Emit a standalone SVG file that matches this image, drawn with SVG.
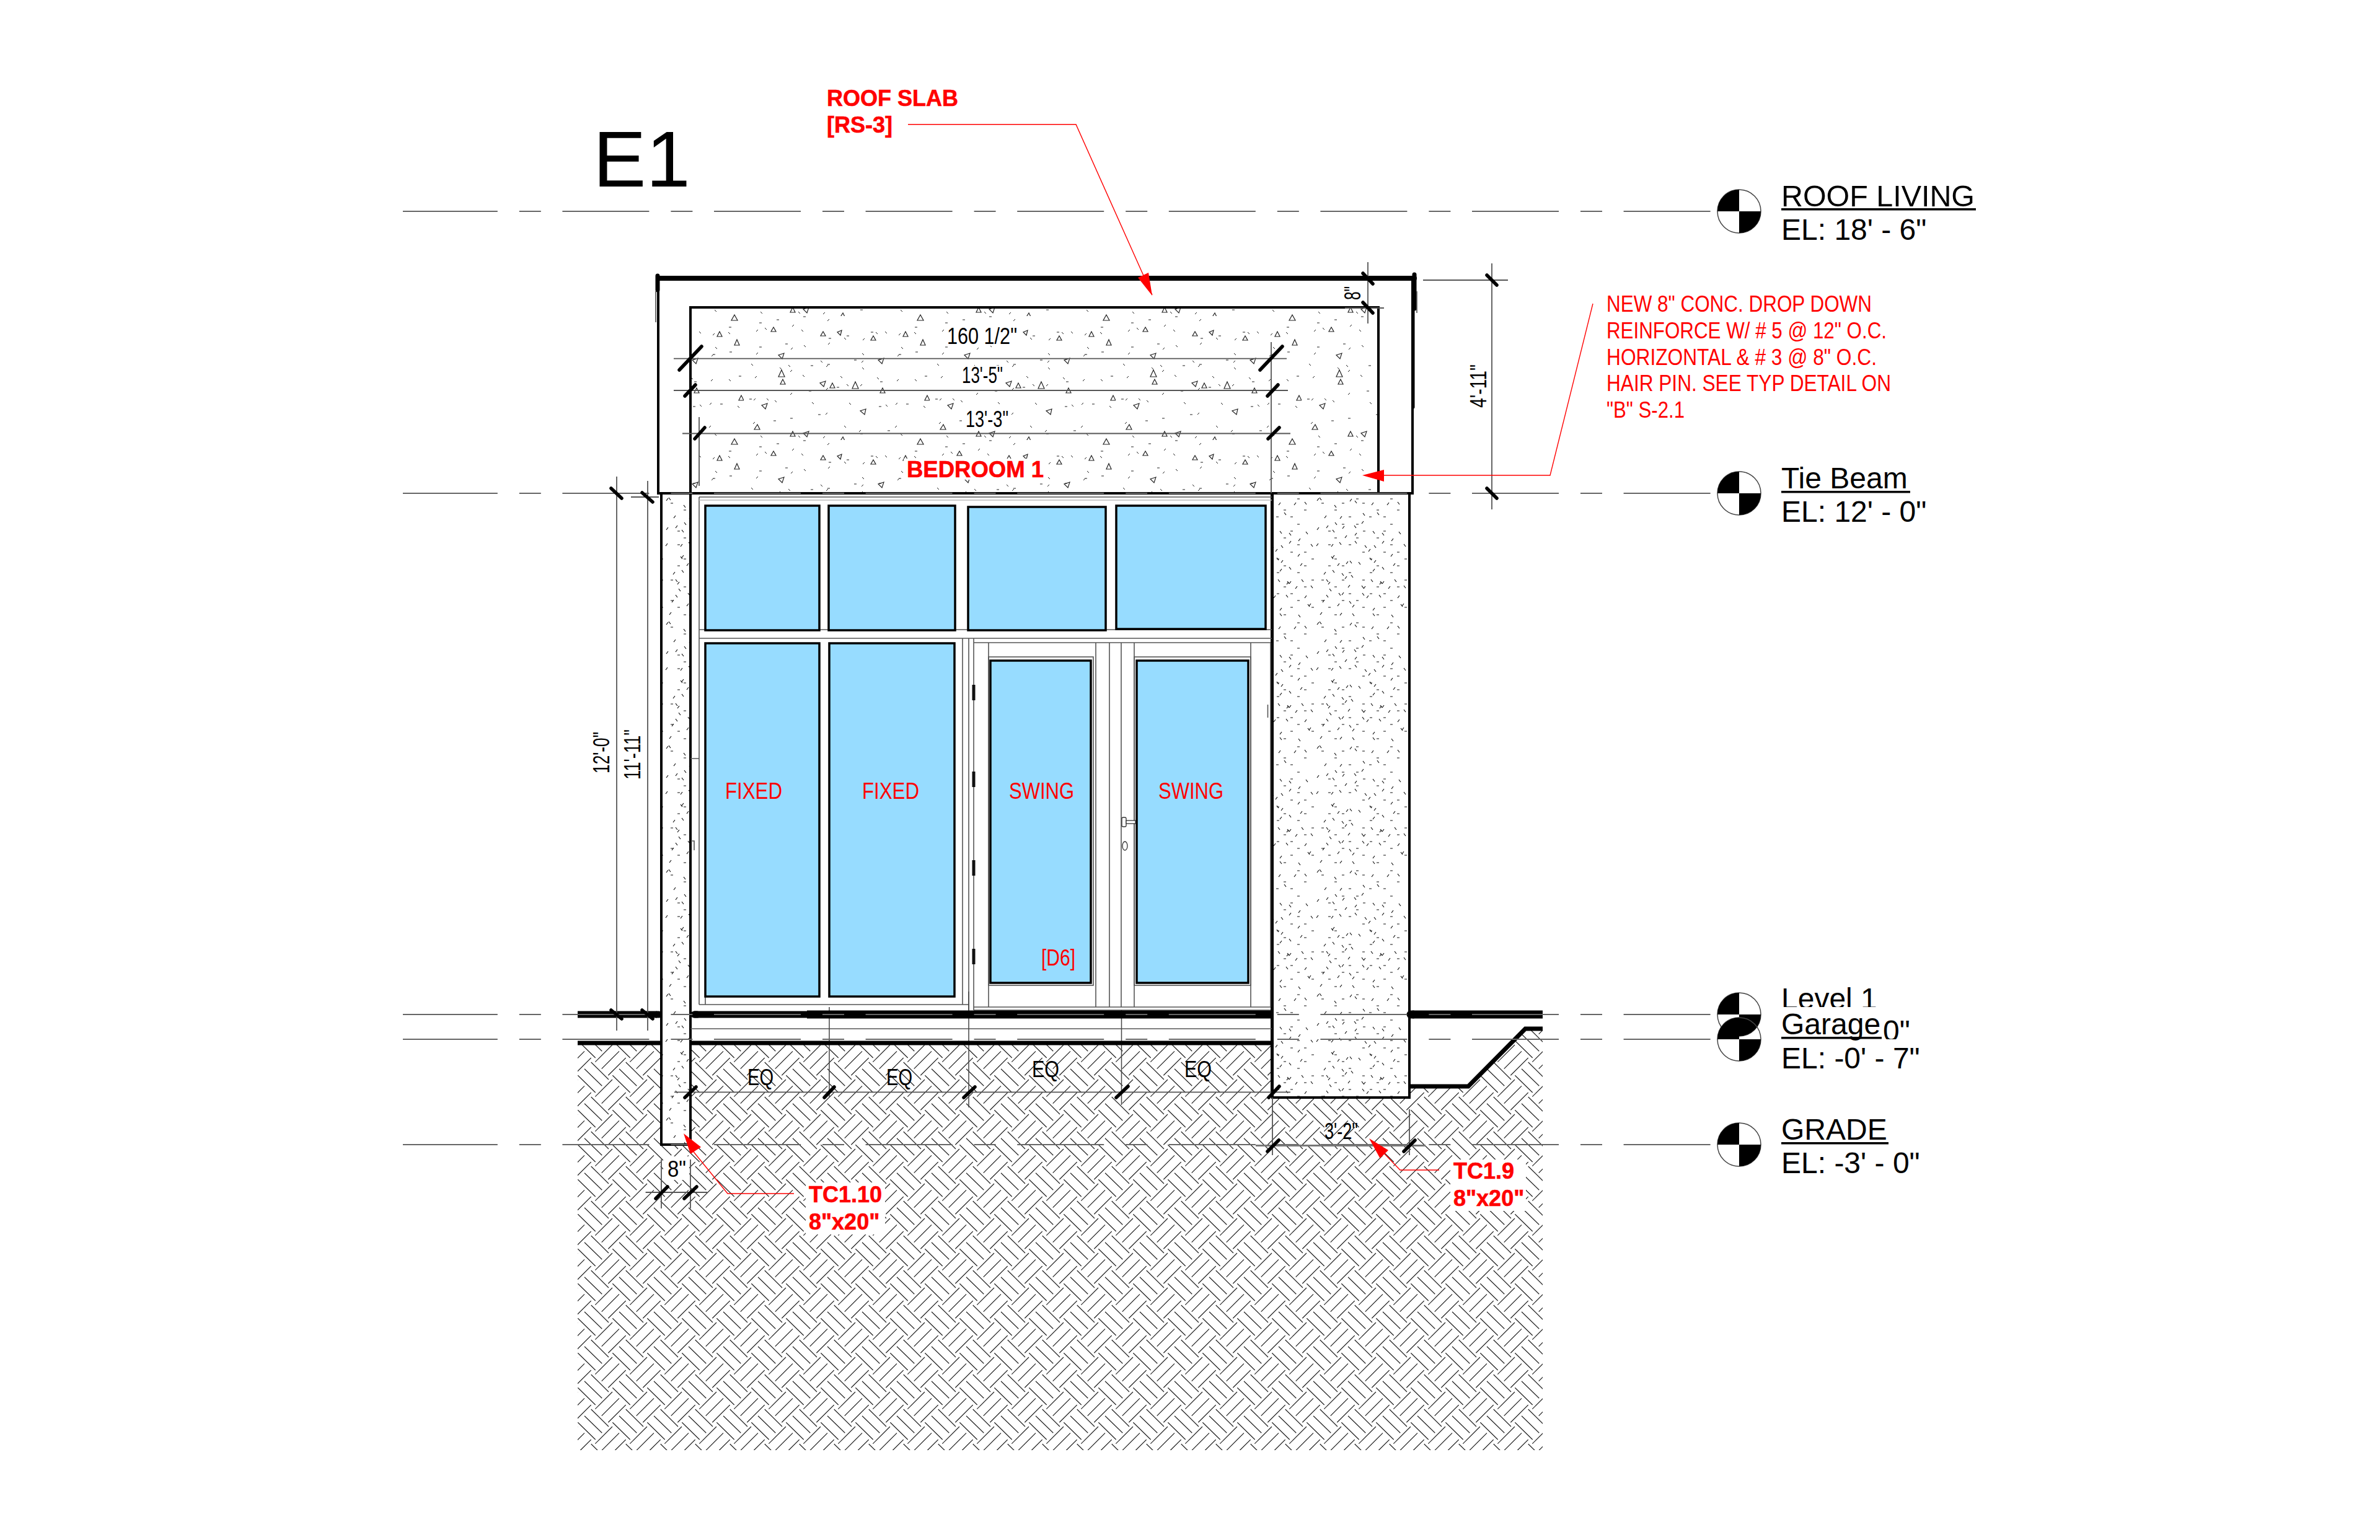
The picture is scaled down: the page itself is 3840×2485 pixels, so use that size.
<svg xmlns="http://www.w3.org/2000/svg" width="3840" height="2485" viewBox="0 0 3840 2485">
<style>
text{font-family:"Liberation Sans",Arial,sans-serif}
.k{fill:#000;font-size:36px}
.lv{fill:#000;font-size:48px}
.r{fill:#f00;font-size:36px}
.b{font-weight:bold;stroke:#f00;stroke-width:.6px}
.thin{stroke:#444;stroke-width:1.5;fill:none}
.fr{stroke:#555;stroke-width:1.6;fill:none}
.dim{stroke:#555;stroke-width:1.8;fill:none}
.tick{stroke:#000;stroke-width:5.5;stroke-linecap:round;fill:none}
.thick{stroke:#000;fill:none;stroke-linecap:round}
.bt{stroke-linecap:butt}
.lvl{stroke:#666;stroke-width:2;stroke-dasharray:140 35 35 34.6;fill:none}
.lead{stroke:#f00;stroke-width:1.4;fill:none}
.pane{fill:#97dcff;stroke:#000;stroke-width:3.5}
.wall{stroke:#000;stroke-width:4}
</style>
<defs>
<g id="hcell" stroke="#222" stroke-width="1.2" fill="none">
<path d="M35 16.7L63.3 44.3M45.7 6L74 34M24.3 27.3L52.7 55M52.3 61.7L80 34M62.7 72.7L91 44.3M73.3 83.3L101.7 55"/>
</g>
<pattern id="hatch" patternUnits="userSpaceOnUse" x="1300" y="2100" width="56" height="56">
<use href="#hcell"/><use href="#hcell" x="-56"/><use href="#hcell" y="-56"/><use href="#hcell" x="-56" y="-56"/>
</pattern>
<pattern id="stip" patternUnits="userSpaceOnUse" x="2120" y="1000" width="150" height="200">
<rect width="150" height="200" fill="#fff"/>
<path stroke="#111" stroke-width="1.2" fill="none" d="M12 12h4M45 12h4M78 12h4M33 23h4M101 23h4M134 23h4M56 34h4M89 34h4M112 34h4M45 46h4M68 46h4M123 46h4M23 57h4M79 57h4M112 57h4M33 68h4M68 68h4M101 68h4M23 79h4M56 79h4M123 79h4M78 91h4M112 91h4M134 91h4M33 102h4M90 102h4M146 102h4M23 113h4M45 113h4M101 113h4M134 113h4M56 124h4M90 124h4M123 124h4M12 136h4M45 136h4M78 136h4M146 136h4M33 147h4M101 147h4M134 147h4M56 158h4M90 158h4M112 158h4M12 169h4M45 169h4M68 169h4M123 169h4M23 180h4M78 180h4M112 180h4M146 180h4M33 192h4M101 192h4M68 5h4M123 5h4
M17 36l3-4M42 37l3-4M77 45l3-4M20 52l3-4M5 55l3-4M46 53l3-4M66 64l3-4M50 68l3-4M110 77l3-4M125 73l3-4M4 81l3-4M28 82l3-4M88 90l3-4M124 98l3-4M30 100l3-4M52 110l3-4M38 113l3-4M97 108l3-4M128 113l3-4M95 122l3-4M16 127l3-4M50 134l3-4M106 143l3-4M80 150l3-4M23 143l3-4M110 142l3-4M55 148l3-4M14 172l3-4M38 178l3-4M62 180l3-4M95 185l3-4M120 150l3-4M142 178l3-4M10 192l3-4M42 193l3-4M5 8l3-4M58 9l3-4M93 15l3-4M118 15l3-4M45 160l3-4M85 165l3-4M135 165l3-4
M33 15l3 4M66 8l3 4M102 27l3 4M79 28l3 4M34 43l3 4M65 48l3 4M30 55l3 4M95 57l3 4M110 60l3 4M137 58l3 4M41 75l3 4M66 73l3 4M97 80l3 4M9 3l3 4M135 10l3 4M82 80l3 4M145 78l3 4M72 107l3 4M58 105l3 4M28 98l3 4M30 120l3 4M45 125l3 4M60 128l3 4M90 100l3 4M110 115l3 4M20 135l3 4M77 145l3 4M107 138l3 4M130 135l3 4M145 145l3 4M25 150l3 4M40 157l3 4M78 157l3 4M92 135l3 4M57 170l3 4M62 190l3 4M95 190l3 4M125 192l3 4M140 175l3 4M20 160l3 4M105 160l3 4"/>
</pattern>
<pattern id="conc" patternUnits="userSpaceOnUse" x="1200" y="510" width="300" height="200">
<rect width="300" height="200" fill="#fff"/>
<path stroke="#222" stroke-width="1" fill="none" d="M25 11h4M53 6h4M96 1h4M205 26h4M137 36h4M166 32h4M25 50h4M67 45h4M276 18h4M277 58h4M250 62h4M108 80h4M135 78h4M178 71h4M218 70h4M150 115h4M220 106h4M105 121h4M9 134h4M292 97h4M262 142h4M218 146h4M120 159h4M48 169h4M75 165h4M232 185h4M188 190h4
M20 25l3-3M78 17l3-3M135 8l3-3M136 46l3-3M192 39l3-3M250 31l3-3M76 54l3-3M133 82l3-3M190 75l3-3M20 62l3-3M18 100l3-3M75 90l3-3M133 119l3-3M247 105l3-3M75 127l3-3M188 113l3-3M248 65l3-3M16 136l3-3M132 159l3-3M245 143l3-3M15 174l3-3M244 180l3-3M186 187l3-3M128 197l3-3
M34 19l3 3M93 22l3 3M162 35l3 3M228 25l3 3M275 26l3 3M213 26l3 3M97 47l3 3M191 60l3 3M254 50l3 3M12 77l3 3M58 83l3 3M72 79l3 3M124 72l3 3M191 83l3 3M95 95l3 3M156 97l3 3M215 99l3 3M276 102l3 3M166 110l3 3M37 133l3 3M50 136l3 3M110 139l3 3M170 140l3 3M229 143l3 3M290 145l3 3M27 193l3 3M162 177l3 3M88 193l3 3M253 190l3 3"/>
<path stroke="#222" stroke-width="1.2" fill="none" d="M48 18l-4 7h8zM128 25l-4 7h8zM158 23l-7 3 5 5zM209 32l-4 7h8zM285-2l-5 9h10zM285 198l-5 9h10zM289 38l-4 9h8zM65 60l-9 3 6 6zM61 87l-5 11h10zM63 102l-4 8h8zM132 105l-9 3 6 6zM143 108l-4 8h8zM180 106l-5 11h10zM224 116l-4 8h8zM226 68l-9 3 6 6zM38 141l-9 3 6 6zM197 150l-9 3 7 6zM79 186l-4 8h8zM105 186l-9 3 6 6zM296 128l-4 8h8zM261 25l-4 8h8zM22 175l-5 8h9zM160 195l-5 8h9z"/>
</pattern>
</defs>
<rect width="3840" height="2485" fill="#fff"/>

<g id="earth">
<polygon fill="url(#hatch)" points="932,1683 2052,1683 2052,1771 2274,1771 2274,1753 2369,1753 2461,1660 2489,1660 2489,2340 932,2340"/>
<g fill="#fff">
<rect x="1300" y="1908" width="128" height="84"/>
<rect x="2340" y="1871" width="122" height="83"/>
<rect x="1070" y="1866" width="42" height="38"/>
</g>
</g>

<g id="structure">
<rect id="wall-left" class="wall" x="1067" y="796" width="47" height="1051" fill="url(#stip)"/>
<rect id="pier-right" class="wall" x="2053" y="796" width="221" height="975" fill="url(#stip)"/>
<rect x="1114" y="796" width="938" height="887" fill="#fff"/>
<rect id="beam-outer" x="1062" y="449" width="1217" height="347" fill="#fff" stroke="#000" stroke-width="4"/>
<rect id="beam-inner" x="1114" y="496" width="1110" height="300" fill="url(#conc)" stroke="#000" stroke-width="4"/>
<g fill="#fff">
<rect x="1524" y="524" width="120" height="34"/>
<rect x="1548" y="590" width="74" height="32"/>
<rect x="1554" y="660" width="77" height="32"/>
<rect x="1458" y="740" width="232" height="34"/>
</g>
<path class="thick" stroke-width="8" d="M1062 449H2282"/>
<path class="thick" stroke-width="7" d="M1061 445V468M2282 443V498"/>
<path class="thick" stroke-width="5" d="M2280 498V657"/>
<path class="thin" d="M2286 470V505M1058 470V520"/>
<path class="wall" d="M1114 796V1683M2052 796V1771" fill="none"/>
</g>

<g id="window">
<path class="fr" d="M1128 802H2052M1128 802V1621M1128 1016H2052M1128 1030H2052M1571 1037H2050M1128 1621H1563M1138 1607V1621M1553 1030V1621M1563 1030V1630M1571 1030V1630M1595 1037V1625M1768 1037V1625M1790 1037V1625M1809 1037V1625M1830 1037V1625M2018 1037V1625M2050 1037V1625M1571 1625H2050M1571 1630H2050"/>
<path stroke="#bbb" stroke-width="1.5" d="M1128 807H2052"/>
<rect class="fr" x="1595" y="1060" width="169" height="530"/>
<rect class="fr" x="1830" y="1060" width="188" height="530"/>
<path class="fr" d="M2045.500 1137V1158M1114 1224H1128M1115 1357H1120V1372"/>
<rect class="pane" x="1138" y="816" width="184" height="201"/>
<rect class="pane" x="1337" y="816" width="204" height="201"/>
<rect class="pane" x="1562" y="818" width="222" height="199"/>
<rect class="pane" x="1801" y="816" width="241" height="199"/>
<rect class="pane" x="1138" y="1038" width="184" height="570"/>
<rect class="pane" x="1338" y="1038" width="202" height="570"/>
<rect class="pane" x="1598" y="1066" width="162" height="520"/>
<rect class="pane" x="1834" y="1066" width="180" height="520"/>
<g id="hinges" fill="#111">
<rect x="1568.500" y="1105" width="5" height="25"/>
<rect x="1568.500" y="1245" width="5" height="25"/>
<rect x="1568.500" y="1388" width="5" height="25"/>
<rect x="1568.500" y="1531" width="5" height="25"/>
</g>
<g id="handle" stroke="#333" stroke-width="1.3" fill="#fff">
<rect x="1810" y="1319" width="7" height="15" rx="2"/>
<rect x="1817" y="1324" width="15" height="5"/>
<ellipse cx="1815" cy="1365" rx="4" ry="7"/>
</g>
<text class="r" x="1170" y="1289" textLength="92" lengthAdjust="spacingAndGlyphs">FIXED</text>
<text class="r" x="1391" y="1289" textLength="92" lengthAdjust="spacingAndGlyphs">FIXED</text>
<text class="r" x="1628" y="1289" textLength="105" lengthAdjust="spacingAndGlyphs">SWING</text>
<text class="r" x="1869" y="1289" textLength="105" lengthAdjust="spacingAndGlyphs">SWING</text>
<text class="r" x="1680" y="1558" textLength="55" lengthAdjust="spacingAndGlyphs">[D6]</text>
</g>

<g id="slab">
<path class="fr" d="M1114 1660H2052"/>
<path class="thin" d="M1338 1625V1770M1563 1600V1787M1809.500 1630V1783"/>
<path class="thick bt" stroke-width="11" d="M932 1637H1060M1120 1637H1302"/>
<path class="thick" stroke-width="11" d="M1060 1637H1063M1120 1637H1125"/>
<path class="thick bt" stroke-width="13" d="M1302 1637H2050M2279 1637H2489"/>
<path class="thick" stroke-width="13" d="M2276 1637H2280"/>
<path class="thick bt" stroke-width="7" d="M932 1683H1065M1116 1683H2052"/>
<path class="thick bt" stroke-width="7" d="M2274 1753H2369L2461 1660H2489"/>
</g>

<g id="levels">
<path class="lvl" d="M662.800 341H2771"/>
<path class="lvl" d="M662.800 796H2771"/>
<path class="lvl" d="M662.800 1637H2771"/>
<path class="lvl" d="M662.800 1677H2771"/>
<path class="lvl" d="M662.800 1847H2771"/>
<path stroke="#666" stroke-width="2" d="M650 341H663M650 796H663M650 1637H663M650 1677H663M650 1847H663"/>
</g>

<g id="dimensions">
<path class="dim" d="M2207 423V522M2170 497H2233M2407 425V822M2296 452H2433M1087 578.600H2076M1087 630H2078M1101 699.500H2082M1128 673V784M2051 552V796M995 769V1663M1045 776V1663M1018 802H1063M1088 1762.400H2082M1041.600 1924H1141M1067 1871V1950M1114 1871V1950M2053 1771V1864M2274 1790V1864"/>
<path stroke="#777" stroke-width="3" d="M2026 1848.500H2300"/>
<path class="tick" d="M2199 441L2215 458M2199 488L2215 505M2399 444L2415 460M2399 788L2415 804M1096 597L1132 559M2033 597L2069 559M1105 639L1122 621M2045 639L2062 621M1121 708L1137 690M2046 708L2064 690M986 788L1003 804M1036 795L1053 810M986 1630L1003 1644M1036 1630L1053 1644M1105 1771L1123 1754M1330 1771L1346 1754M1555 1771L1573 1754M1801 1771L1820 1753M2047 1771L2064 1753M1058 1934L1077 1915M1104 1934L1124 1915M2045 1858L2063 1840M2265 1858L2283 1840"/>
<text class="k" transform="translate(2195 484) rotate(-90)" textLength="22" lengthAdjust="spacingAndGlyphs">8"</text>
<text class="k" transform="translate(2398 658) rotate(-90)" textLength="70" lengthAdjust="spacingAndGlyphs">4'-11"</text>
<text class="k" x="1528" y="555" textLength="113" lengthAdjust="spacingAndGlyphs">160 1/2"</text>
<text class="k" x="1552" y="618" textLength="66" lengthAdjust="spacingAndGlyphs">13'-5"</text>
<text class="k" x="1558" y="689" textLength="69" lengthAdjust="spacingAndGlyphs">13'-3"</text>
<text class="k" transform="translate(983 1248) rotate(-90)" textLength="67" lengthAdjust="spacingAndGlyphs">12'-0"</text>
<text class="k" transform="translate(1033 1258) rotate(-90)" textLength="81" lengthAdjust="spacingAndGlyphs">11'-11"</text>
<text class="k" x="1206" y="1751" textLength="42" lengthAdjust="spacingAndGlyphs">EQ</text>
<text class="k" x="1430" y="1751" textLength="42" lengthAdjust="spacingAndGlyphs">EQ</text>
<text class="k" x="1665" y="1738" textLength="44" lengthAdjust="spacingAndGlyphs">EQ</text>
<text class="k" x="1911" y="1738" textLength="44" lengthAdjust="spacingAndGlyphs">EQ</text>
<text class="k" x="1077" y="1899" textLength="30" lengthAdjust="spacingAndGlyphs">8"</text>
<text class="k" x="2137" y="1838" textLength="54" lengthAdjust="spacingAndGlyphs">3'-2"</text>
</g>

<g id="connectors">
<path class="lead" d="M1465 200.700H1736L1859 476"/>
<polygon fill="#f00" points="1859,477 1836,448 1853,440"/>
<path class="lead" d="M2570 490L2501 767H2233"/>
<polygon fill="#f00" points="2198,767 2233,758 2233,777"/>
<path class="lead" d="M1281 1926H1174L1112 1850"/>
<polygon fill="#f00" points="1103,1829 1131,1851 1114,1862"/>
<path class="lead" d="M2322 1888H2259L2232 1860"/>
<polygon fill="#f00" points="2209,1837 2240,1856 2226.500,1869"/>
</g>

<g id="annotations">
<text x="957" y="301" font-size="128" fill="#000">E1</text>
<text class="r b" x="1334" y="171">ROOF SLAB</text>
<text class="r b" x="1334" y="214">[RS-3]</text>
<text class="r b" x="1463" y="770" textLength="221" lengthAdjust="spacingAndGlyphs">BEDROOM 1</text>
<text class="r b" x="1305" y="1940">TC1.10</text>
<text class="r b" x="1305" y="1984">8"x20"</text>
<text class="r b" x="2345" y="1902">TC1.9</text>
<text class="r b" x="2345" y="1946">8"x20"</text>
<g id="note">
<text class="r" x="2592" y="503" textLength="428" lengthAdjust="spacingAndGlyphs">NEW 8" CONC. DROP DOWN</text>
<text class="r" x="2592" y="546" textLength="452" lengthAdjust="spacingAndGlyphs">REINFORCE W/ # 5 @ 12" O.C.</text>
<text class="r" x="2592" y="589" textLength="436" lengthAdjust="spacingAndGlyphs">HORIZONTAL &amp; # 3 @ 8" O.C.</text>
<text class="r" x="2592" y="631" textLength="459" lengthAdjust="spacingAndGlyphs">HAIR PIN. SEE TYP DETAIL ON</text>
<text class="r" x="2592" y="674" textLength="126" lengthAdjust="spacingAndGlyphs">"B" S-2.1</text>
</g>
</g>

<g id="level-roof">
<circle cx="2806" cy="341" r="35" fill="#fff" stroke="#444" stroke-width="1.5"/>
<path d="M2806 341V306A35 35 0 0 0 2771 341ZM2806 341V376A35 35 0 0 0 2841 341Z"/>
<text class="lv" x="2874" y="333" textLength="312" lengthAdjust="spacingAndGlyphs">ROOF LIVING</text>
<rect x="2874" y="336" width="314" height="3.500"/>
<text class="lv" x="2874" y="387">EL: 18' - 6"</text>
</g>
<g id="level-tie">
<circle cx="2806" cy="796" r="35" fill="#fff" stroke="#444" stroke-width="1.5"/>
<path d="M2806 796V761A35 35 0 0 0 2771 796ZM2806 796V831A35 35 0 0 0 2841 796Z"/>
<text class="lv" x="2874" y="788">Tie Beam</text>
<rect x="2874" y="792" width="208" height="3.500"/>
<text class="lv" x="2874" y="842">EL: 12' - 0"</text>
</g>
<g id="level-1">
<circle cx="2806" cy="1637" r="35" fill="#fff" stroke="#444" stroke-width="1.5"/>
<path d="M2806 1637V1602A35 35 0 0 0 2771 1637ZM2806 1637V1672A35 35 0 0 0 2841 1637Z"/>
<text class="lv" x="2874" y="1628">Level 1</text>
<text class="lv" x="3038" y="1680">0"</text>
</g>
<g id="level-garage">
<rect x="2875" y="1625" width="162" height="52" fill="#fff"/>
<rect x="2875" y="1677" width="230" height="50" fill="#fff"/>
<circle cx="2806" cy="1677" r="35" fill="none" stroke="#444" stroke-width="1.5"/>
<path d="M2806 1677V1642A35 35 0 0 0 2771 1677ZM2806 1677V1712A35 35 0 0 0 2841 1677Z"/>
<text class="lv" x="2874" y="1669">Garage</text>
<rect x="2874" y="1673" width="162" height="3.500"/>
<text class="lv" x="2874" y="1724">EL: -0' - 7"</text>
</g>
<g id="level-grade">
<circle cx="2806" cy="1847" r="35" fill="#fff" stroke="#444" stroke-width="1.5"/>
<path d="M2806 1847V1812A35 35 0 0 0 2771 1847ZM2806 1847V1882A35 35 0 0 0 2841 1847Z"/>
<text class="lv" x="2874" y="1839">GRADE</text>
<rect x="2874" y="1843" width="173" height="3.500"/>
<text class="lv" x="2874" y="1893">EL: -3' - 0"</text>
</g>
</svg>
